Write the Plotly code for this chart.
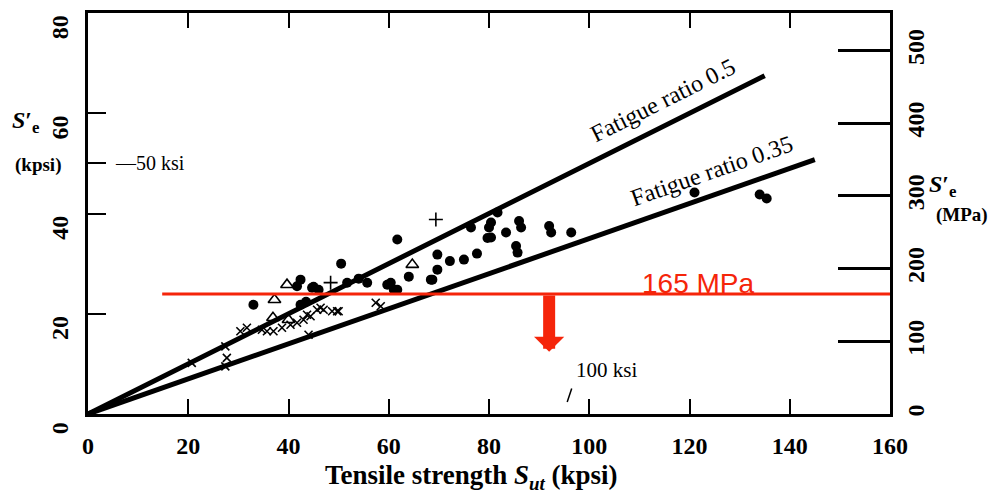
import math
import plotly.graph_objects as go

KPSI_TO_MPA = 6.895

# fatigue-ratio lines (ratio, end of line in kpsi)
ratios = [0.5, 0.35]
ratio_end_x = [135, 145]
ratio_labels = ["Fatigue ratio 0.5", "Fatigue ratio 0.35"]
ratio_label_x = [114.8, 124.4]
ratio_label_y = [62.6, 48.4]

# data points (Sut kpsi, Se' kpsi)
circle_x = [61.7, 50.5, 54.0, 55.7, 60.4, 61.7, 64.0, 69.7, 69.7, 68.4, 72.2, 75.0, 77.6, 76.4,
            80.0, 80.4, 45.0, 42.4, 79.7, 83.4, 86.0, 86.4, 85.4, 85.7, 92.0, 92.4, 96.4, 81.7,
            80.4, 121.0, 134.0, 135.4, 51.7, 44.7, 46.0, 41.7, 33.0, 42.4, 43.5, 59.7, 61.0, 68.7]
circle_y = [34.8, 30.0, 27.0, 26.2, 26.2, 24.8, 27.4, 31.8, 28.8, 26.8, 30.5, 30.8, 32.0, 37.2,
            37.2, 35.2, 25.4, 26.8, 35.1, 36.2, 38.5, 37.2, 33.5, 32.2, 37.5, 36.2, 36.2, 40.2,
            38.2, 44.2, 43.8, 43.0, 26.2, 25.2, 24.8, 25.5, 21.8, 21.8, 22.4, 25.8, 24.8, 26.8]
xmark_x = [20.7, 27.4, 27.7, 27.4, 30.4, 31.7, 34.7, 35.7, 37.0, 38.7, 40.4, 41.7, 43.0, 44.4,
           44.0, 45.7, 47.0, 48.7, 50.0, 57.4, 58.4, 43.7, 46.4, 49.7]
xmark_y = [10.2, 13.5, 11.2, 9.5, 16.5, 17.2, 16.8, 16.5, 16.5, 17.2, 17.8, 18.2, 18.8, 19.5,
           15.8, 20.8, 20.8, 20.5, 20.5, 22.2, 21.5, 19.8, 21.2, 20.5]
plus_x = [69.4, 48.4]
plus_y = [38.8, 26.2]
tri_x = [39.7, 64.7, 37.2, 36.9, 40.0]
tri_y = [25.8, 29.8, 22.8, 19.2, 18.8]

# limit line
limit_mpa = 165
limit_x = [14.8, 160]
arrow_x = 92
arrow_tip_kpsi = 12.4
limit_label_x = 121.6

x_ticks = [0, 20, 40, 60, 80, 100, 120, 140, 160]
y_ticks = [0, 20, 40, 50, 60, 80]
y_ticktext = ["0", "20", "40", "", "60", "80"]
y2_ticks = [0, 100, 200, 300, 400, 500]

RED = "#f5250a"
SERIF = "Liberation Serif"

fig = go.Figure()

for r, xe in zip(ratios, ratio_end_x):
    fig.add_trace(go.Scatter(x=[0, xe], y=[0, r * xe], mode="lines",
                             line=dict(color="black", width=5), showlegend=False, hoverinfo="skip"))

fig.add_trace(go.Scatter(x=circle_x, y=circle_y, mode="markers",
                         marker=dict(symbol="circle", size=10, color="black"), showlegend=False))
fig.add_trace(go.Scatter(x=xmark_x, y=xmark_y, mode="markers",
                         marker=dict(symbol="x-thin", size=8, line=dict(color="black", width=1.6)),
                         showlegend=False))
fig.add_trace(go.Scatter(x=plus_x, y=plus_y, mode="markers",
                         marker=dict(symbol="cross-thin", size=10, line=dict(color="black", width=1.6)),
                         showlegend=False))
fig.add_trace(go.Scatter(x=tri_x, y=tri_y, mode="markers",
                         marker=dict(symbol="triangle-up-open", size=11, color="black",
                                     line=dict(color="black", width=1.6)),
                         showlegend=False))

# red limit line on the MPa axis
fig.add_trace(go.Scatter(x=limit_x, y=[limit_mpa, limit_mpa], mode="lines", yaxis="y2",
                         line=dict(color=RED, width=3), showlegend=False, hoverinfo="skip"))

for txt, lx, ly, r in zip(ratio_labels, ratio_label_x, ratio_label_y, ratios):
    fig.add_annotation(x=lx, y=ly, text=txt, showarrow=False,
                       textangle=-math.degrees(math.atan(r)),
                       font=dict(family=SERIF, size=24, color="black"))

fig.add_annotation(x=limit_label_x, y=limit_mpa / KPSI_TO_MPA + 2.2, text="165 MPa", showarrow=False,
                   font=dict(family="Liberation Sans", size=28, color=RED))

fig.add_annotation(x=arrow_x, y=arrow_tip_kpsi, ax=arrow_x, ay=limit_mpa / KPSI_TO_MPA,
                   axref="x", ayref="y", xref="x", yref="y", text="", showarrow=True,
                   arrowhead=1, arrowsize=0.42, arrowwidth=12, arrowcolor=RED)

fig.add_annotation(x=5, y=50, text="—50 ksi", showarrow=False, xanchor="left",
                   font=dict(family=SERIF, size=20, color="black"))
fig.add_annotation(x=103.4, y=8.8, text="100 ksi", showarrow=False,
                   font=dict(family=SERIF, size=21, color="black"))
fig.add_annotation(x=95.6, y=2.4, ax=96.6, ay=5.4, axref="x", ayref="y", text="",
                   showarrow=True, arrowhead=0, arrowwidth=1.5, arrowcolor="black")

# axis titles
def paper_text(px, py, text, size):
    fig.add_annotation(xref="paper", yref="paper", x=(px - 88) / 802, y=(414 - py) / 401,
                       xanchor="center", yanchor="middle", text=text, showarrow=False,
                       font=dict(family=SERIF, size=size, color="black", weight="bold"))

paper_text(471, 477, "Tensile strength <i>S</i><sub><i>ut</i></sub> (kpsi)", 27)
paper_text(26, 122, "<i>S</i>′<sub>e</sub>", 24)
paper_text(38, 165, "(kpsi)", 19)
paper_text(943, 186, "<i>S</i>′<sub>e</sub>", 24)
paper_text(962, 215, "(MPa)", 19)

tickfont = dict(family=SERIF, size=24, color="black", weight="bold")
fig.update_layout(
    width=990, height=496,
    margin=dict(l=88, r=100, t=13, b=82),
    paper_bgcolor="white", plot_bgcolor="white",
    xaxis=dict(range=[0, 160], tickvals=x_ticks, ticks="inside", ticklen=15, tickwidth=2,
               tickcolor="black", showline=True, linewidth=2.5, linecolor="black",
               mirror="ticks", showgrid=False, zeroline=False, tickfont=tickfont,
               ticklabelstandoff=8, ticklabeloverflow="allow", automargin=False),
    yaxis=dict(range=[0, 80], tickvals=y_ticks, ticktext=y_ticktext, ticks="inside", ticklen=18,
               tickwidth=2, tickcolor="black", showline=True, linewidth=2.5, linecolor="black",
               showgrid=False, zeroline=False, tickangle=-90, tickfont=tickfont,
               ticklabelposition="outside bottom",
               ticklabelstandoff=8, ticklabeloverflow="allow", automargin=False),
    yaxis2=dict(range=[0, 80 * KPSI_TO_MPA], overlaying="y", side="right", tickvals=y2_ticks,
                ticks="inside", ticklen=52, tickwidth=2.5, tickcolor="black", showline=True,
                linewidth=2.5, linecolor="black", showgrid=False, zeroline=False, tickangle=-90,
                tickfont=tickfont, ticklabelstandoff=2, ticklabeloverflow="allow",
                automargin=False),
)

fig.write_html("out.html")
